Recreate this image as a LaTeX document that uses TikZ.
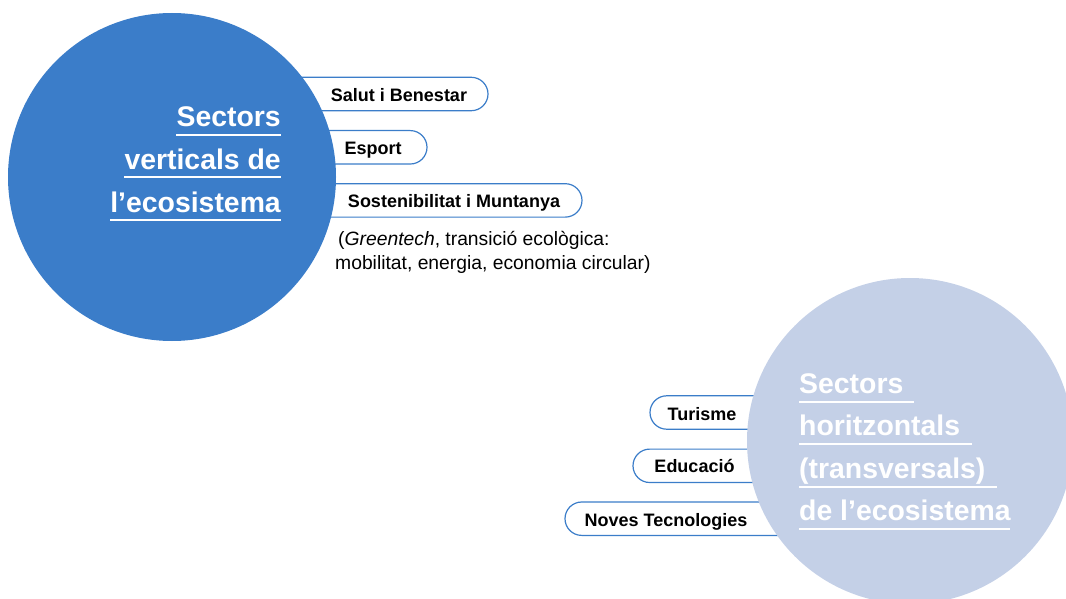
\documentclass[tikz,border=0pt]{standalone}
\usepackage{fontspec}
\setmainfont{Liberation Sans}
\definecolor{cblue}{HTML}{3B7DC9}
\definecolor{clight}{HTML}{C4D0E7}
\begin{document}
\begin{tikzpicture}[x=1pt,y=1pt,
  pillbox/.style={draw=cblue, line width=1.2pt, fill=white, rounded corners=16.7pt, minimum height=33.4pt, inner sep=0pt},
  pilltext/.style={font=\fontsize{18}{20}\selectfont\bfseries, text=black, inner sep=0pt, anchor=base},
  titletext/.style={font=\fontsize{28.4}{30}\selectfont\bfseries, text=white, inner sep=0pt},
  bodytext/.style={font=\fontsize{19.3}{24}\selectfont, text=black, inner sep=0pt, anchor=base west},
  uline/.style={draw=white, line width=2pt},
  bigcircle/.style={circle, inner sep=0pt}
]
\useasboundingbox (0,0) rectangle (1066,-599);

% pills of the vertical sectors (behind the circle)
\node[pillbox, minimum width=238pt] (p1) at (369,-94) {};
\node[pillbox, minimum width=177pt] (p2) at (338.5,-147.3) {};
\node[pillbox, minimum width=332pt] (p3) at (416,-200.4) {};

% pills of the horizontal sectors
\node[pillbox, minimum width=200pt] (q1) at (750,-412.5) {};
\node[pillbox, minimum width=217pt] (q2) at (741.5,-465.8) {};
\node[pillbox, minimum width=285pt] (q3) at (707.5,-518.7) {};

% circles
\node[bigcircle, fill=cblue, minimum size=328pt] (c1) at (172,-177) {};
\node[bigcircle, fill=clight, minimum size=326pt] (c2) at (910,-441) {};

% pill texts
\node[pilltext] (tp1) at (399,-101.7) {Salut i Benestar};
\node[pilltext] (tp2) at (373,-155) {Esport};
\node[pilltext] (tp3) at (454,-207.7) {Sostenibilitat i Muntanya};
\node[pilltext] (tq1) at (702,-420) {Turisme};
\node[pilltext] (tq2) at (694.5,-472.7) {Educació};
\node[pilltext] (tq3) at (666,-526.7) {Noves Tecnologies};

% note under Sostenibilitat
\node[bodytext] (n1) at (338,-245) {(\textit{Greentech}, transició ecològica:};
\node[bodytext] (n2) at (335,-269) {mobilitat, energia, economia circular)};

% title of circle 1
\node[titletext, anchor=base east] (a1) at (281,-127) {Sectors};
\node[titletext, anchor=base east] (a2) at (281,-169.5) {verticals de};
\node[titletext, anchor=base east] (a3) at (281,-212) {l’ecosistema};
\draw[uline] ([yshift=-8pt]a1.base west) -- ([yshift=-8pt]a1.base east);
\draw[uline] ([yshift=-8pt]a2.base west) -- ([yshift=-8pt]a2.base east);
\draw[uline] ([yshift=-8pt]a3.base west) -- ([yshift=-8pt]a3.base east);

% title of circle 2
\node[titletext, anchor=base west] (b1) at (799,-393.3) {Sectors};
\node[titletext, anchor=base west] (b2) at (799,-435.7) {horitzontals};
\node[titletext, anchor=base west] (b3) at (799,-478.3) {(transversals)};
\node[titletext, anchor=base west] (b4) at (799,-520.7) {de l’ecosistema};
\draw[uline] ([yshift=-8.4pt]b1.base west) -- ++(115,0);
\draw[uline] ([yshift=-8pt]b2.base west) -- ++(173,0);
\draw[uline] ([yshift=-8.4pt]b3.base west) -- ++(198,0);
\draw[uline] ([yshift=-8.6pt]b4.base west) -- ++(211,0);
\end{tikzpicture}
\end{document}
